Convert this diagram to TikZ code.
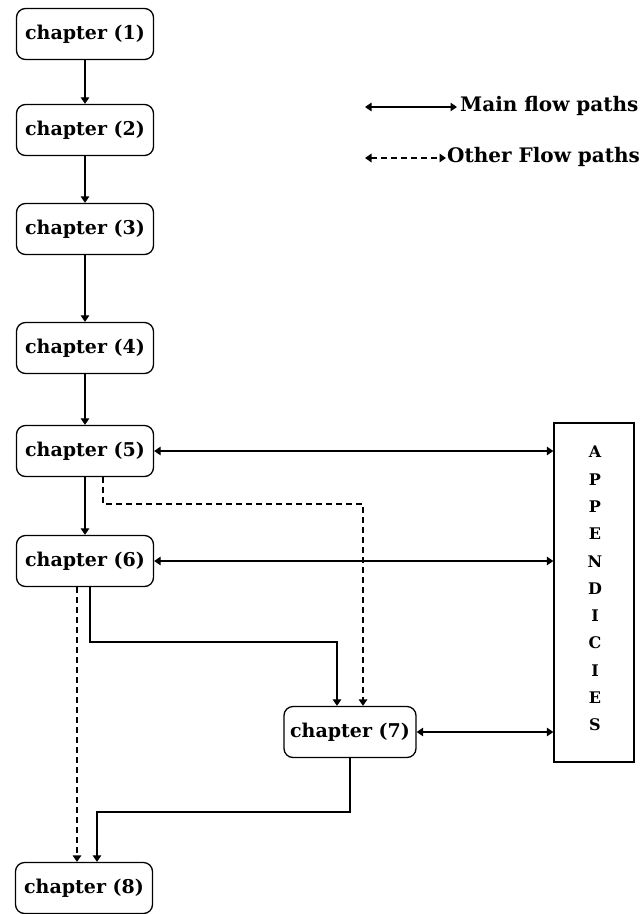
\documentclass[tikz,border=0pt]{standalone}
\usepackage{fontspec}
\setmainfont{DejaVu Serif}
\usetikzlibrary{arrows.meta}
\begin{document}
\begin{tikzpicture}[x=1pt,y=-1pt,
  chapbox/.style={draw, line width=1.3pt, rounded corners=9pt, minimum width=137pt,
    minimum height=51pt, inner sep=0pt, font=\fontsize{19}{22}\selectfont\bfseries},
  tip/.tip={Triangle[length=6.5pt,width=8.5pt]},
  mainflow/.style={line width=1.2pt, -{tip}},
  mainboth/.style={line width=1.2pt, {tip}-{tip}},
  otherflow/.style={line width=2.4pt, dash pattern=on 6pt off 4pt, -{tip}},
  otherboth/.style={line width=2.4pt, dash pattern=on 6pt off 4pt, {tip}-{tip}},
  legendtext/.style={anchor=west, inner sep=1pt, font=\fontsize{20}{23}\selectfont\bfseries}]
\useasboundingbox (0,0) rectangle (640,914);

% chapter boxes
\node[chapbox] (c1) at (85,34)  {chapter (1)};
\node[chapbox] (c2) at (85,130) {chapter (2)};
\node[chapbox] (c3) at (85,229) {chapter (3)};
\node[chapbox] (c4) at (85,348) {chapter (4)};
\node[chapbox] (c5) at (85,451) {chapter (5)};
\node[chapbox] (c6) at (85,561) {chapter (6)};
\node[chapbox, minimum width=132pt] (c7) at (350,732) {chapter (7)};
\node[chapbox] (c8) at (84,888) {chapter (8)};

% appendices column
\node[draw, line width=1.3pt, minimum width=80pt, minimum height=339pt, inner sep=0pt] (app) at (594,592.5) {};
\foreach \l [count=\i from 0] in {A,P,P,E,N,D,I,C,I,E,S}
  \node[font=\fontsize{16}{18}\selectfont\bfseries, inner sep=0pt] (app\i) at (595,452+27.3*\i) {\l};

% main chain
\draw[mainflow] (c1.south) -- (c2.north);
\draw[mainflow] (c2.south) -- (c3.north);
\draw[mainflow] (c3.south) -- (c4.north);
\draw[mainflow] (c4.south) -- (c5.north);
\draw[mainflow] (c5.south) -- (c6.north);

% links to the appendices
\draw[mainboth] (c5.east) -- (c5.east -| app.west);
\draw[mainboth] (c6.east) -- (c6.east -| app.west);
\draw[mainboth] (c7.east) -- (c7.east -| app.west);

% branches towards chapter (7)
\draw[otherflow] (c5.south -| 103,0) |- (363,504) -- (363,504 |- c7.north);
\draw[mainflow] (c6.south -| 90,0) |- (337,642) -- (337,642 |- c7.north);

% branches towards chapter (8)
\draw[otherflow] (c6.south -| 77,0) -- (77,0 |- c8.north);
\draw[mainflow] (c7.south) |- (97,812) -- (97,812 |- c8.north);

% legend
\coordinate (l1a) at (365,107);
\coordinate (l1b) at (457,107);
\coordinate (l2a) at (365,158);
\coordinate (l2b) at (446,158);
\draw[mainboth] (l1a) -- (l1b);
\node[legendtext] (lt1) at (459,106) {Main flow paths};
\draw[otherboth] (l2a) -- (l2b);
\node[legendtext] (lt2) at (446,157) {Other Flow paths};
\end{tikzpicture}
\end{document}
